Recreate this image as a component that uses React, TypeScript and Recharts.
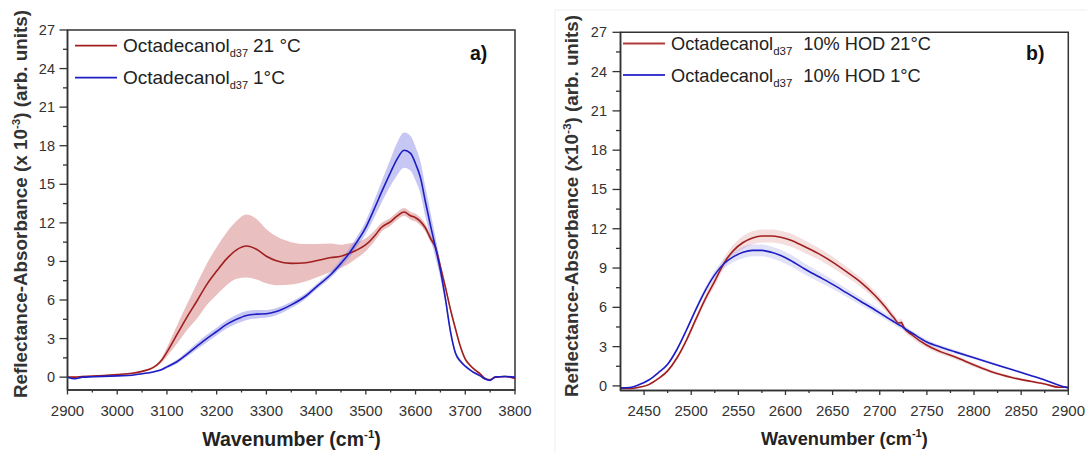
import React from 'react';
import { ComposedChart, Line, Area, XAxis, YAxis, Legend, ReferenceArea } from 'recharts';

// ---------- Panel a) : Octadecanol d37 ----------
const leftWn = [2900, 2915, 2930, 2950, 3000, 3030, 3050, 3070, 3080, 3090, 3100, 3120, 3140, 3160, 3180, 3200, 3220, 3240, 3260, 3280, 3300, 3320, 3350, 3380, 3400, 3430, 3450, 3465, 3480, 3500, 3520, 3530, 3550, 3562, 3577, 3590, 3600, 3610, 3620, 3630, 3640, 3650, 3660, 3670, 3680, 3690, 3700, 3710, 3720, 3730, 3740, 3750, 3760, 3780, 3800];
const leftRed = [0.0, 0.0, 0.05, 0.08, 0.2, 0.3, 0.45, 0.7, 0.95, 1.35, 1.95, 3.3, 4.65, 5.9, 7.2, 8.25, 9.2, 9.9, 10.2, 9.95, 9.4, 9.05, 8.85, 8.9, 9.05, 9.3, 9.4, 9.6, 9.85, 10.3, 11.1, 11.6, 12.1, 12.5, 12.85, 12.55, 12.4, 12.1, 11.6, 10.8, 10.1, 8.6, 7.0, 5.3, 3.8, 2.4, 1.4, 0.9, 0.55, 0.25, -0.1, -0.2, 0.0, 0.05, -0.1];
const leftRedErr = [0.05, 0.05, 0.05, 0.05, 0.05, 0.05, 0.06, 0.08, 0.1, 0.2, 0.35, 0.7, 1.0, 1.35, 1.6, 1.85, 2.05, 2.25, 2.45, 2.35, 2.1, 1.9, 1.65, 1.45, 1.3, 1.1, 0.9, 0.8, 0.65, 0.5, 0.4, 0.35, 0.3, 0.3, 0.3, 0.3, 0.3, 0.3, 0.3, 0.28, 0.25, 0.25, 0.22, 0.2, 0.18, 0.15, 0.12, 0.1, 0.08, 0.06, 0.05, 0.05, 0.05, 0.05, 0.05];
const leftBlue = [0.0, -0.12, 0.0, 0.03, 0.1, 0.15, 0.27, 0.38, 0.47, 0.6, 0.8, 1.2, 1.78, 2.4, 3.0, 3.55, 4.1, 4.5, 4.8, 4.9, 4.93, 5.1, 5.62, 6.33, 7.0, 8.0, 8.85, 9.55, 10.4, 11.65, 13.35, 14.25, 15.95, 16.9, 17.65, 17.4, 16.6, 15.5, 13.6, 11.8, 10.1, 8.3, 6.1, 3.6, 1.9, 1.25, 0.85, 0.55, 0.3, 0.1, -0.15, -0.25, 0.0, 0.05, 0.0];
const leftBlueErr = [0.05, 0.05, 0.05, 0.05, 0.05, 0.05, 0.05, 0.06, 0.07, 0.08, 0.1, 0.15, 0.2, 0.25, 0.3, 0.3, 0.32, 0.35, 0.35, 0.33, 0.3, 0.28, 0.25, 0.22, 0.2, 0.25, 0.3, 0.35, 0.4, 0.5, 0.7, 0.8, 1.05, 1.25, 1.37, 1.35, 1.3, 1.25, 1.15, 1.0, 0.8, 0.6, 0.4, 0.3, 0.2, 0.15, 0.1, 0.08, 0.06, 0.05, 0.05, 0.05, 0.05, 0.05, 0.05];

const leftXMajor = [2900, 3000, 3100, 3200, 3300, 3400, 3500, 3600, 3700, 3800];
const leftXMinor = [2950, 3050, 3150, 3250, 3350, 3450, 3550, 3650, 3750];
const leftYMajor = [0, 3, 6, 9, 12, 15, 18, 21, 24, 27];
const leftYMinor = [1.5, 4.5, 7.5, 10.5, 13.5, 16.5, 19.5, 22.5, 25.5];

// ---------- Panel b) : Octadecanol d37 10% HOD ----------
const rightWn = [2425, 2435, 2445, 2455, 2465, 2475, 2485, 2495, 2505, 2515, 2525, 2535, 2545, 2555, 2565, 2575, 2585, 2595, 2605, 2620, 2635, 2650, 2665, 2680, 2695, 2705, 2715, 2720, 2723, 2725, 2735, 2750, 2765, 2780, 2800, 2820, 2840, 2860, 2875, 2890, 2900];
const rightRed = [-0.2, -0.2, -0.1, 0.1, 0.55, 1.15, 2.15, 3.5, 5.1, 6.65, 8.0, 9.4, 10.35, 10.95, 11.3, 11.45, 11.45, 11.35, 11.15, 10.65, 10.1, 9.45, 8.7, 7.9, 6.9, 6.1, 5.2, 4.8, 4.85, 4.55, 3.85, 3.1, 2.6, 2.2, 1.6, 1.05, 0.65, 0.35, 0.15, -0.1, -0.1];
const rightRedErr = [0.05, 0.05, 0.05, 0.06, 0.08, 0.1, 0.15, 0.2, 0.25, 0.3, 0.35, 0.4, 0.45, 0.5, 0.5, 0.5, 0.5, 0.5, 0.5, 0.48, 0.45, 0.42, 0.38, 0.35, 0.32, 0.3, 0.28, 0.27, 0.27, 0.26, 0.24, 0.2, 0.18, 0.16, 0.15, 0.12, 0.1, 0.08, 0.06, 0.05, 0.05];
const rightBlue = [-0.15, -0.12, 0.1, 0.45, 1.0, 1.65, 2.8, 4.27, 5.85, 7.3, 8.5, 9.35, 9.87, 10.2, 10.35, 10.35, 10.2, 9.95, 9.6, 8.95, 8.35, 7.75, 7.1, 6.45, 5.8, 5.35, 4.9, 4.68, 4.57, 4.45, 4.0, 3.35, 2.95, 2.6, 2.15, 1.7, 1.25, 0.8, 0.45, 0.05, -0.15];
const rightBlueErr = [0.05, 0.05, 0.05, 0.06, 0.08, 0.1, 0.12, 0.15, 0.2, 0.25, 0.3, 0.35, 0.4, 0.45, 0.45, 0.45, 0.45, 0.45, 0.45, 0.42, 0.4, 0.35, 0.32, 0.3, 0.27, 0.25, 0.23, 0.22, 0.22, 0.21, 0.2, 0.18, 0.16, 0.14, 0.12, 0.1, 0.08, 0.07, 0.06, 0.05, 0.05];

const rightXMajor = [2450, 2500, 2550, 2600, 2650, 2700, 2750, 2800, 2850, 2900];
const rightXMinor = [2475, 2525, 2575, 2625, 2675, 2725, 2775, 2825, 2875];
const rightYMajor = [0, 3, 6, 9, 12, 15, 18, 21, 24, 27];
const rightYMinor = [1.5, 4.5, 7.5, 10.5, 13.5, 16.5, 19.5, 22.5, 25.5];

const FONT = '"Liberation Sans", Arial, Helvetica, sans-serif';
const AX = '#333333';
const RED = '#a11f1f';
const BLUE = '#1d1dc4';

type Row = { wn: number; red: number; blue: number; redBand: [number, number]; blueBand: [number, number] };

const build = (wn: number[], red: number[], redErr: number[], blue: number[], blueErr: number[]): Row[] =>
  wn.map((w, i) => ({
    wn: w,
    red: red[i],
    blue: blue[i],
    redBand: [red[i] - redErr[i], red[i] + redErr[i]],
    blueBand: [blue[i] - blueErr[i], blue[i] + blueErr[i]],
  }));

const leftData = build(leftWn, leftRed, leftRedErr, leftBlue, leftBlueErr);
const rightData = build(rightWn, rightRed, rightRedErr, rightBlue, rightBlueErr);

const makeXTick = (majors: number[], majLen: number, minLen: number, labelDy: number, fs: number) => (props: any) => {
  const { x, y, payload } = props;
  const major = majors.includes(payload.value);
  return (
    <g>
      <line x1={x} x2={x} y1={y} y2={y + (major ? majLen : minLen)} stroke={AX} strokeWidth={1.3} />
      {major && (
        <text x={x} y={y + labelDy} textAnchor="middle" fontSize={fs} fill="#333" fontFamily={FONT}>
          {payload.value}
        </text>
      )}
    </g>
  );
};

const makeYTick = (majors: number[], majLen: number, minLen: number, labelDx: number, fs: number) => (props: any) => {
  const { x, y, payload } = props;
  const major = majors.includes(payload.value);
  return (
    <g>
      <line x1={x} x2={x - (major ? majLen : minLen)} y1={y} y2={y} stroke={AX} strokeWidth={1.3} />
      {major && (
        <text x={x - labelDx} y={y + 5} textAnchor="end" fontSize={fs} fill="#333" fontFamily={FONT}>
          {payload.value}
        </text>
      )}
    </g>
  );
};

type LegendSpec = {
  offsetX: number;
  x1: number;
  x2: number;
  tx: number;
  ys: number[];
  fs: number;
  sub: number;
  suffixes: string[];
  colors: string[];
  gap: number;
};

const makeLegend = (s: LegendSpec) => () => (
  <svg width={560} height={100} style={{ overflow: 'visible', display: 'block' }}>
    {s.ys.map((y, i) => (
      <g key={i}>
        <line x1={s.x1 - s.offsetX} x2={s.x2 - s.offsetX} y1={y} y2={y} stroke={s.colors[i]} strokeWidth={1.8} />
        <text x={s.tx - s.offsetX} y={y + 6.6} fontSize={s.fs} fill="#222" fontFamily={FONT}>
          Octadecanol
          <tspan fontSize={s.sub} dy={5}>d37</tspan>
          <tspan dy={-5} dx={s.gap}>{s.suffixes[i]}</tspan>
        </text>
      </g>
    ))}
  </svg>
);

const leftLegend = makeLegend({
  offsetX: 0, x1: 75, x2: 117, tx: 123, ys: [45.7, 77.7], fs: 19, sub: 11,
  suffixes: ['21 °C', '1°C'], colors: [RED, BLUE], gap: 5,
});
const rightLegend = makeLegend({
  offsetX: 540, x1: 623, x2: 665, tx: 671, ys: [43.5, 75], fs: 18.2, sub: 11.5,
  suffixes: ['10% HOD 21°C', '10% HOD 1°C'], colors: ['#b23a3a', '#3a3ad0'], gap: 11,
});

export default function App() {
  return (
    <div style={{ position: 'absolute', left: 0, top: 0, width: 1087, height: 453, background: '#fff', fontFamily: FONT }}>
      {/* Panel a */}
      <div style={{ position: 'absolute', left: 0, top: 0 }}>
        <ComposedChart width={540} height={453} data={leftData} margin={{ top: 30, right: 25, bottom: 33, left: 0 }}>
          <XAxis
            dataKey="wn"
            type="number"
            domain={[2900, 3800]}
            allowDataOverflow
            ticks={[...leftXMajor, ...leftXMinor].sort((a, b) => a - b)}
            interval={0}
            tickSize={0}
            tickMargin={0}
            tickLine={false}
            height={30}
            axisLine={{ stroke: AX, strokeWidth: 1.5 }}
            tick={makeXTick(leftXMajor, 4.5, 2.5, 26, 15)}
          />
          <YAxis
            type="number"
            domain={[-1, 27]}
            allowDataOverflow
            ticks={[...leftYMajor, ...leftYMinor].sort((a, b) => a - b)}
            interval={0}
            tickSize={0}
            tickMargin={0}
            tickLine={false}
            width={67.5}
            axisLine={{ stroke: AX, strokeWidth: 1.5 }}
            tick={makeYTick(leftYMajor, 8, 4.5, 12.5, 14.5)}
          />
          <ReferenceArea x1={2900} x2={3800} y1={-1} y2={27} fill="none" stroke={AX} strokeWidth={1.5} fillOpacity={0} />
          <Area type="monotone" dataKey="redBand" stroke="none" fill="#d48080" fillOpacity={0.5} isAnimationActive={false} legendType="none" />
          <Area type="monotone" dataKey="blueBand" stroke="none" fill="#9090e8" fillOpacity={0.5} isAnimationActive={false} legendType="none" />
          <Line type="monotone" dataKey="red" stroke={RED} strokeWidth={1.6} dot={false} isAnimationActive={false} />
          <Line type="monotone" dataKey="blue" stroke={BLUE} strokeWidth={1.6} dot={false} isAnimationActive={false} />
          <Legend
            layout="horizontal"
            verticalAlign="middle"
            align="center"
            content={leftLegend}
            wrapperStyle={{ position: 'absolute', left: 0, top: 0, width: 540, height: 100, pointerEvents: 'none' }}
          />
        </ComposedChart>
      </div>

      {/* Panel b */}
      <div style={{ position: 'absolute', left: 540, top: 0 }}>
        <ComposedChart width={547} height={453} data={rightData} margin={{ top: 32.3, right: 18.7, bottom: 32.5, left: 0 }}>
          <XAxis
            dataKey="wn"
            type="number"
            domain={[2425, 2900]}
            allowDataOverflow
            ticks={[...rightXMajor, ...rightXMinor].sort((a, b) => a - b)}
            interval={0}
            tickSize={0}
            tickMargin={0}
            tickLine={false}
            height={30}
            axisLine={{ stroke: AX, strokeWidth: 1.5 }}
            tick={makeXTick(rightXMajor, 4.5, 2.5, 25.5, 15)}
          />
          <YAxis
            type="number"
            domain={[-0.35, 27]}
            allowDataOverflow
            ticks={[...rightYMajor, ...rightYMinor].sort((a, b) => a - b)}
            interval={0}
            tickSize={0}
            tickMargin={0}
            tickLine={false}
            width={80.5}
            axisLine={{ stroke: AX, strokeWidth: 1.5 }}
            tick={makeYTick(rightYMajor, 8, 4.5, 13.5, 14.5)}
          />
          <ReferenceArea x1={2425} x2={2900} y1={-0.35} y2={27} fill="none" stroke={AX} strokeWidth={1.5} fillOpacity={0} />
          <Area type="monotone" dataKey="redBand" stroke="none" fill="#e0a0a0" fillOpacity={0.35} isAnimationActive={false} legendType="none" />
          <Area type="monotone" dataKey="blueBand" stroke="none" fill="#a8a8ec" fillOpacity={0.35} isAnimationActive={false} legendType="none" />
          <Line type="monotone" dataKey="red" stroke={RED} strokeWidth={1.6} dot={false} isAnimationActive={false} />
          <Line type="monotone" dataKey="blue" stroke={BLUE} strokeWidth={1.6} dot={false} isAnimationActive={false} />
          <Legend
            layout="horizontal"
            verticalAlign="middle"
            align="center"
            content={rightLegend}
            wrapperStyle={{ position: 'absolute', left: 0, top: 0, width: 547, height: 100, pointerEvents: 'none' }}
          />
        </ComposedChart>
      </div>

      {/* Titles and panel labels */}
      <svg width={1087} height={453} style={{ position: 'absolute', left: 0, top: 0, pointerEvents: 'none' }}>
        <rect x={555} y={10} width={540} height={450} fill="none" stroke="#efefef" strokeWidth={1} />
        <text transform="translate(27,204) rotate(-90)" textAnchor="middle" fontSize={18} fontWeight="bold" fill="#333" fontFamily={FONT} textLength={388} lengthAdjust="spacingAndGlyphs">
          Reflectance-Absorbance (x 10<tspan fontSize={11} dy={-7}>-3</tspan><tspan dy={7}>) (arb. units)</tspan>
        </text>
        <text transform="translate(578,206) rotate(-90)" textAnchor="middle" fontSize={17.5} fontWeight="bold" fill="#333" fontFamily={FONT} textLength={382} lengthAdjust="spacingAndGlyphs">
          Reflectance-Absorbance (x10<tspan fontSize={11} dy={-7}>-3</tspan><tspan dy={7}>) (arb. units)</tspan>
        </text>
        <text x={291.5} y={446} textAnchor="middle" fontSize={19.5} fontWeight="bold" fill="#222" fontFamily={FONT}>
          Wavenumber (cm<tspan fontSize={11.5} dy={-8}>-1</tspan><tspan dy={8}>)</tspan>
        </text>
        <text x={844.4} y={445} textAnchor="middle" fontSize={18.2} fontWeight="bold" fill="#222" fontFamily={FONT}>
          Wavenumber (cm<tspan fontSize={11} dy={-8}>-1</tspan><tspan dy={8}>)</tspan>
        </text>
        <text x={470} y={60} fontSize={19.5} fontWeight="bold" fill="#111" fontFamily={FONT}>a)</text>
        <text x={1026} y={60} fontSize={19.5} fontWeight="bold" fill="#111" fontFamily={FONT}>b)</text>
      </svg>
    </div>
  );
}
